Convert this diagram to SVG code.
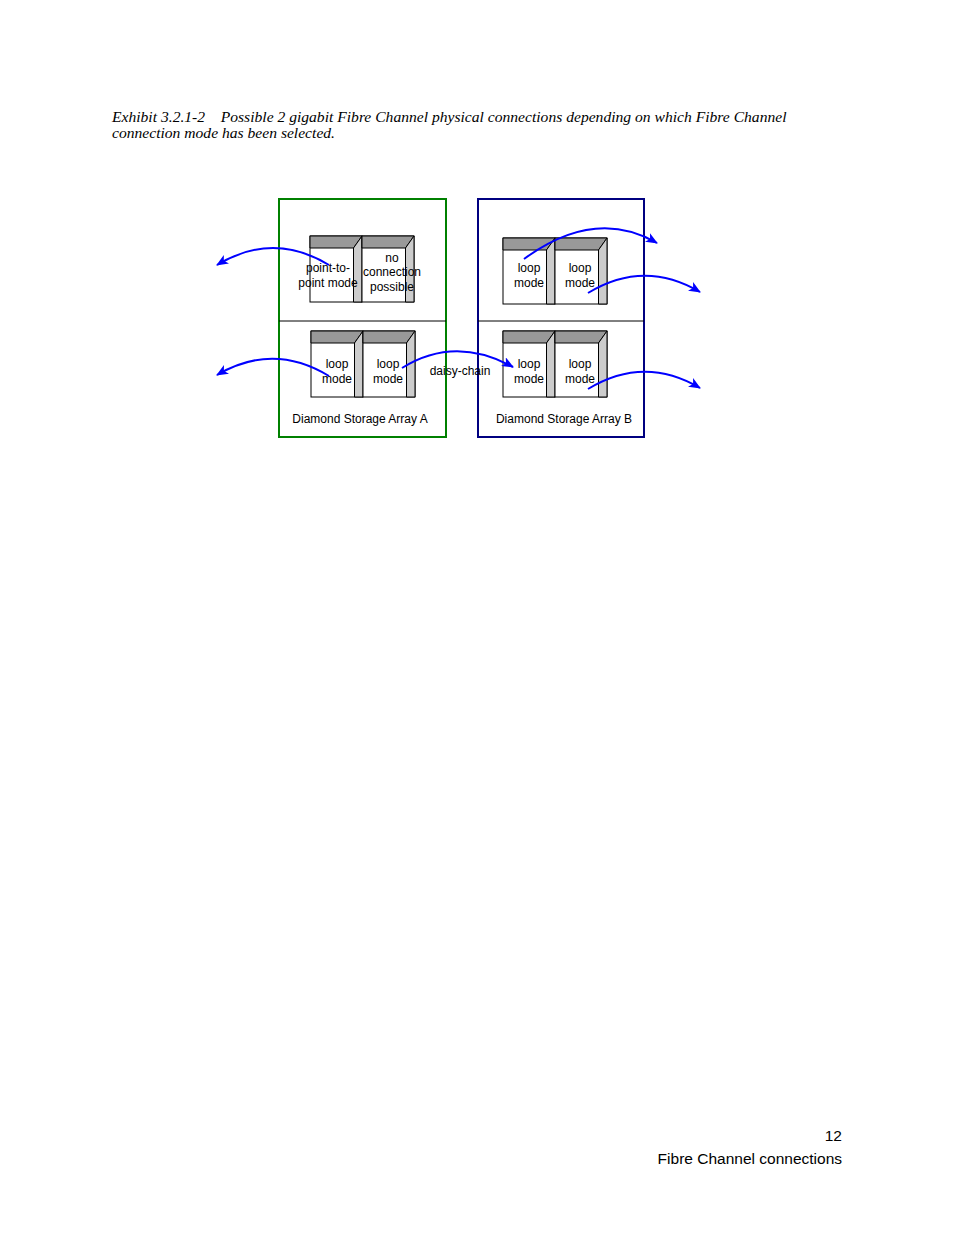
<svg xmlns="http://www.w3.org/2000/svg" xmlns:xlink="http://www.w3.org/1999/xlink" width="954" height="1235" viewBox="0 0 954 1235">
<style>
.cap{font-family:"Liberation Serif",serif;font-style:italic;font-size:15.6px;fill:#000}
.t{font-family:"Liberation Sans",Arial,sans-serif;font-size:12px;fill:#000;text-anchor:middle}
.ft{font-family:"Liberation Sans",Arial,sans-serif;font-size:15.5px;fill:#000;text-anchor:end}
.w{fill:none;stroke:#0000ff;stroke-width:2;marker-end:url(#ah)}
.mod{stroke:#000;stroke-width:1}
</style>
<defs>
<marker id="ah" markerWidth="12" markerHeight="10" refX="11" refY="5" orient="auto" markerUnits="userSpaceOnUse">
<path d="M0,0 L12,5 L0,10 L3,5 Z" fill="#0000ff"/>
</marker>
<g id="mod" class="mod">
<rect x="0" y="0" width="52" height="66" fill="#fff"/>
<polygon points="0,0 52,0 43.5,12 0,12" fill="#999"/>
<polygon points="43.5,12 52,0 52,66 43.5,66" fill="#ccc"/>
</g>
</defs>
<rect width="954" height="1235" fill="#fff"/>
<g id="caption">
<text class="cap" x="112" y="122" xml:space="preserve">Exhibit 3.2.1-2    Possible 2 gigabit Fibre Channel physical connections depending on which Fibre Channel</text>
<text class="cap" x="112" y="138">connection mode has been selected.</text>
</g>
<g id="arrayA">
<rect x="279" y="199" width="167" height="238" fill="none" stroke="#008000" stroke-width="2"/>
<line x1="279" y1="321" x2="446" y2="321" stroke="#000" stroke-width="1"/>
<text class="t" x="360" y="423">Diamond Storage Array A</text>
</g>
<g id="arrayB">
<rect x="478" y="199" width="166" height="238" fill="none" stroke="#000080" stroke-width="2"/>
<line x1="478" y1="321" x2="644" y2="321" stroke="#000" stroke-width="1"/>
<text class="t" x="564" y="423">Diamond Storage Array B</text>
</g>
<g id="modA1"><use xlink:href="#mod" x="310" y="236"/>
<text class="t" x="328" y="272">point-to-</text><text class="t" x="328" y="287">point mode</text></g>
<g id="modA2"><use xlink:href="#mod" x="362" y="236"/>
<text class="t" x="392" y="262">no</text><text class="t" x="392" y="276">connection</text><text class="t" x="392" y="291">possible</text></g>
<g id="modA3"><use xlink:href="#mod" x="311" y="331"/>
<text class="t" x="337" y="368">loop</text><text class="t" x="337" y="383">mode</text></g>
<g id="modA4"><use xlink:href="#mod" x="363" y="331"/>
<text class="t" x="388" y="368">loop</text><text class="t" x="388" y="383">mode</text></g>
<g id="modB1"><use xlink:href="#mod" x="503" y="238"/>
<text class="t" x="529" y="272">loop</text><text class="t" x="529" y="287">mode</text></g>
<g id="modB2"><use xlink:href="#mod" x="555" y="238"/>
<text class="t" x="580" y="272">loop</text><text class="t" x="580" y="287">mode</text></g>
<g id="modB3"><use xlink:href="#mod" x="503" y="331"/>
<text class="t" x="529" y="368">loop</text><text class="t" x="529" y="383">mode</text></g>
<g id="modB4"><use xlink:href="#mod" x="555" y="331"/>
<text class="t" x="580" y="368">loop</text><text class="t" x="580" y="383">mode</text></g>
<g id="daisy"><text class="t" x="460" y="375">daisy-chain</text></g>
<g id="connectors">
<path class="w" d="M329,265 Q273,231 217,265"/>
<path class="w" d="M329,376 Q273,342 217,375"/>
<path class="w" d="M402,368 Q455,335 513,367"/>
<path class="w" d="M588,389 Q644,355 700,388"/>
<path class="w" d="M524,259 Q595,207 657,243"/>
<path class="w" d="M588,293 Q644,259 700,292"/>
</g>
<g id="footer">
<text class="ft" x="842" y="1141">12</text>
<text class="ft" x="842" y="1164">Fibre Channel connections</text>
</g>
</svg>
